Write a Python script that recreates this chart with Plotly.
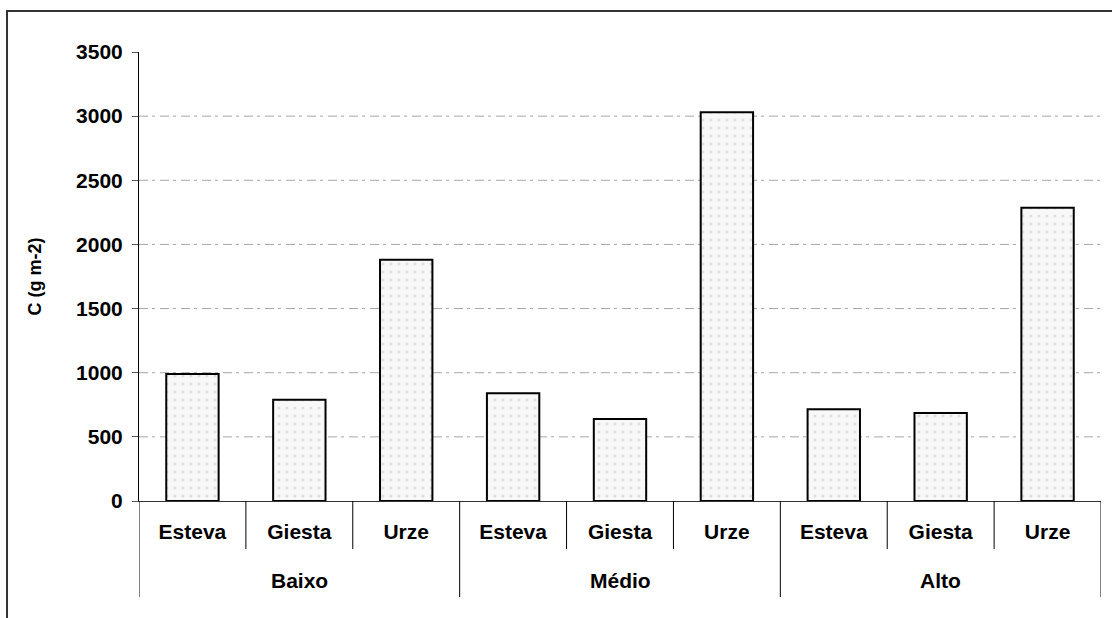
import plotly.graph_objects as go

groups = ["Baixo", "Médio", "Alto"]
species = ["Esteva", "Giesta", "Urze"]
values = {
    "Baixo": [990, 790, 1880],
    "Médio": [840, 640, 3030],
    "Alto": [715, 685, 2285],
}
y_ticks = [0, 500, 1000, 1500, 2000, 2500, 3000, 3500]
y_title = "C (g m-2)"

x_keys = [f"{g} {s}" for g in groups for s in species]
x_text = species * len(groups)
y_vals = [v for g in groups for v in values[g]]

FAM = "Liberation Sans, Arial, sans-serif"
fnt = dict(family=FAM, size=21, color="black", weight="bold")

fig = go.Figure()
fig.add_trace(go.Bar(
    x=x_keys,
    y=y_vals,
    marker=dict(
        color="#f7f7f7",
        line=dict(color="black", width=2),
        pattern=dict(shape=".", size=8, solidity=0.12, fgcolor="#c4c4c4", bgcolor="#f8f8f8"),
    ),
    showlegend=False,
))

# dash-dot gridlines (no line at the top value)
for t in y_ticks[1:-1]:
    fig.add_shape(type="line", xref="paper", x0=0, x1=1, yref="y", y0=t, y1=t,
                  line=dict(color="#a6a6a6", width=1, dash="9px,4px,3px,5px"), layer="below")

# category separators (short) and group dividers (long)
n = len(species)
for i in range(len(x_keys) + 1):
    long = i % n == 0
    fig.add_shape(type="line", xref="x", yref="paper", x0=i - 0.5, x1=i - 0.5,
                  y0=0, y1=-96 / 449 if long else -48 / 449,
                  line=dict(color="black", width=1))

# group labels
for k, g in enumerate(groups):
    fig.add_annotation(text=g, xref="x", yref="paper", x=k * n + (n - 1) / 2, y=-79 / 449,
                       showarrow=False, yanchor="middle", font=fnt)

# outer chart frame
fig.add_shape(type="rect", xref="paper", yref="paper", x0=-0.1372, x1=1.05, y0=-0.4, y1=1.0913,
              line=dict(color="#333333", width=2), layer="below")

fig.add_annotation(text=y_title, xref="paper", yref="paper", x=(34 - 139) / 962, y=0.5,
                   xanchor="center", yanchor="middle",
                   textangle=-90, showarrow=False,
                   font=dict(family=FAM, size=18, color="black", weight="bold"))

fig.update_layout(
    width=1112, height=618,
    margin=dict(l=139, r=11, t=52, b=117),
    paper_bgcolor="white", plot_bgcolor="white",
    bargap=0.51,
    xaxis=dict(
        type="category",
        range=[-0.5, len(x_keys) - 0.5],
        tickmode="array", tickvals=x_keys, ticktext=x_text,
        showline=True, linecolor="#333333", linewidth=1,
        ticks="", showgrid=False,
        tickfont=fnt, ticklabelstandoff=12,
    ),
    yaxis=dict(
        range=[0, 3500], tickvals=y_ticks,
        showline=True, linecolor="black", linewidth=1,
        ticks="outside", ticklen=6, tickcolor="#555555",
        showgrid=False, zeroline=False,
        tickfont=fnt, ticklabelstandoff=5,
    ),
)

fig.write_html("out.html", config={"displayModeBar": False},
               post_script="document.body.style.margin='0';")
